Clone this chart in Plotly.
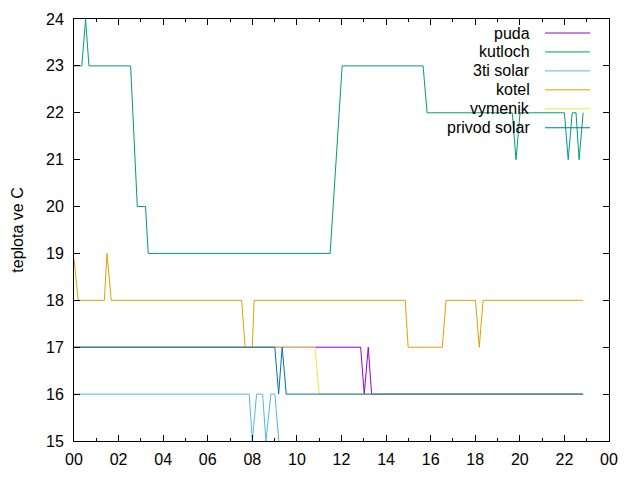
import plotly.graph_objects as go

# ---- data (hours since midnight, temperature in °C) ----
names = ["puda", "kutloch", "3ti solar", "kotel", "vymenik", "privod solar"]
colors = ["#9400d3", "#009e73", "#56b4e9", "#e69f00", "#f0e442", "#0072b2"]

puda_t = [0, 12.86, 13.02, 13.2, 13.35, 22.84]
puda_v = [17, 17, 16, 17, 16, 16]

kutloch_t = [0, 0.35, 0.52, 0.67, 2.54, 2.84, 3.21, 3.33, 11.49, 12.03, 15.66, 15.84,
             19.66, 19.83, 20.01, 22.0, 22.17, 22.35, 22.52, 22.66, 22.84]
kutloch_v = [23, 23, 24, 23, 23, 20, 20, 19, 19, 23, 23, 22,
             22, 21, 22, 22, 21, 22, 22, 21, 22]

solar3_t = [0, 7.86, 8.0, 8.19, 8.46, 8.61, 8.83, 9.01, 9.19, 9.35, 22.84]
solar3_v = [16, 16, 15, 16, 16, 15, 16, 16, 15, 14, 14]

kotel_t = [0, 0.19, 1.36, 1.48, 1.67, 7.52, 7.68, 8.0, 8.08, 14.86, 14.99, 16.52, 16.69,
           18.01, 18.18, 18.35, 22.84]
kotel_v = [18.88, 18, 18, 19, 18, 18, 17, 17, 18, 18, 17, 17, 18,
           18, 17, 18, 18]

vymenik_t = [0, 10.81, 11.0, 22.84]
vymenik_v = [17, 17, 16, 16]

privod_t = [0, 9.01, 9.18, 9.34, 9.52, 22.84]
privod_v = [17, 17, 16, 17, 16, 16]

xtick_vals = list(range(0, 25, 2))
xtick_text = ["00", "02", "04", "06", "08", "10", "12", "14", "16", "18", "20", "22", "00"]
ytick_vals = list(range(15, 25))

series = [(puda_t, puda_v), (kutloch_t, kutloch_v), (solar3_t, solar3_v),
          (kotel_t, kotel_v), (vymenik_t, vymenik_v), (privod_t, privod_v)]

fig = go.Figure()
for (t, v), n, c in zip(series, names, colors):
    fig.add_trace(go.Scatter(x=t, y=v, mode="lines", name=n,
                             line=dict(color=c, width=1), showlegend=False))

# gnuplot-style legend: right-aligned text with sample line to the right
L, R, T, B = 74, 31, 19, 39
W, H = 640, 480
pw, ph = W - L - R, H - T - B
row0 = 33
drow = 18.95
text_right = (532 - L) / pw
line_x0 = (545 - L) / pw
line_x1 = (590 - L) / pw
annotations = []
shapes = []
for i, (n, c) in enumerate(zip(names, colors)):
    yp = (H - B - (row0 + i * drow)) / ph
    annotations.append(dict(xref="paper", yref="paper", x=text_right, y=yp,
                            text=n, showarrow=False, xanchor="right", yanchor="middle",
                            font=dict(family="Liberation Sans, Arial", size=16, color="#000")))
    shapes.append(dict(type="line", xref="paper", yref="paper", x0=line_x0, x1=line_x1,
                       y0=yp, y1=yp, line=dict(color=c, width=1)))

axis_common = dict(showline=True, linecolor="black", linewidth=1, mirror="ticks",
                   ticks="inside", ticklen=6, tickcolor="black", showgrid=False,
                   zeroline=False, tickfont=dict(family="Liberation Sans, Arial", size=16, color="#000"))

fig.update_layout(
    width=W, height=H,
    margin=dict(l=L, r=R, t=T, b=B, pad=0),
    plot_bgcolor="white", paper_bgcolor="white",
    font=dict(family="Liberation Sans, Arial", size=16, color="#000"),
    annotations=annotations, shapes=shapes,
    xaxis=dict(range=[0, 24], tickvals=xtick_vals, ticktext=xtick_text,
               minor=dict(ticks="inside", dtick=1, ticklen=3, tickcolor="black"),
               ticklabelstandoff=4, **axis_common),
    yaxis=dict(range=[15, 24], tickvals=ytick_vals,
               title=dict(text="teplota ve C", standoff=18,
                          font=dict(family="Liberation Sans, Arial", size=16)),
               ticklabelstandoff=6, **axis_common),
)

fig.write_html("out.html")
